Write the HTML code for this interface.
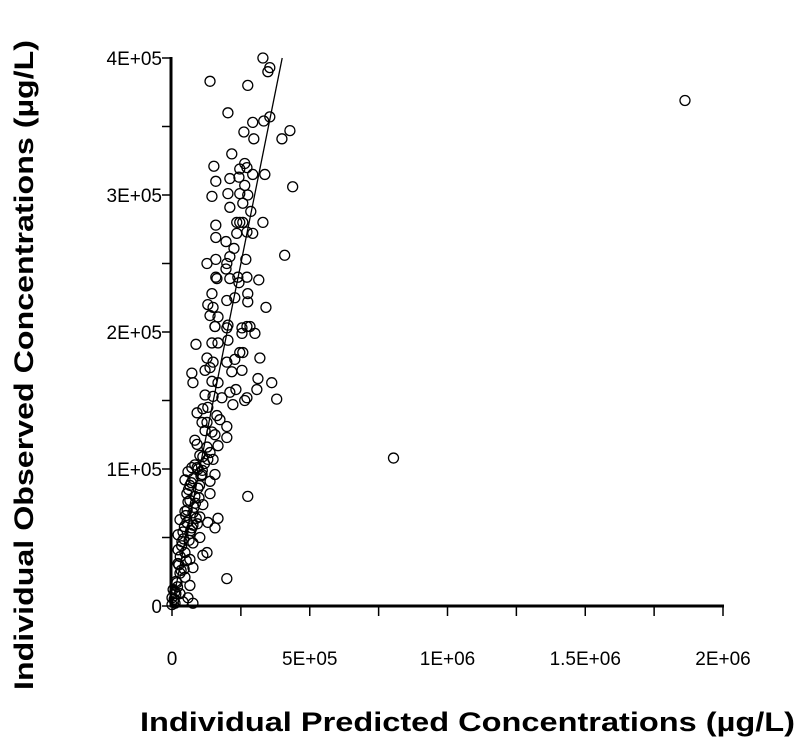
<!DOCTYPE html>
<html><head><meta charset="utf-8"><style>
html,body{margin:0;padding:0;background:#fff;}
svg{display:block;font-family:"Liberation Sans",sans-serif;}
</style></head><body>
<svg id="chart" width="800" height="744">
<g id="axes"></g>
<g id="pts"></g>
<text x="140" y="731" textLength="655" lengthAdjust="spacingAndGlyphs" font-size="27" font-weight="bold">Individual Predicted Concentrations (µg/L)</text>
<text transform="translate(33,690) rotate(-90)" textLength="650" lengthAdjust="spacingAndGlyphs" font-size="27" font-weight="bold">Individual Observed Concentrations (µg/L)</text>
</svg>
<script>
// values in thousands (µg/L / 1000)
const predX = [330,355,348,138,275,203,355,333,293,261,428,399,297,217,152,264,272,246,293,337,159,210,243,264,438,145,203,246,275,257,210,286,246,235,257,330,159,159,196,235,272,293,225,409,210,127,159,199,268,196,159,163,210,239,243,272,315,145,199,228,275,275,130,149,341,138,167,156,203,283,254,272,301,254,156,199,87,145,167,203,246,257,319,127,149,138,120,199,217,254,72,76,145,167,312,362,308,232,210,149,181,221,264,272,380,112,130,91,163,109,127,199,145,156,199,91,127,167,138,112,130,149,72,91,58,109,156,76,138,65,94,54,138,275,83,58,112,47,76,101,167,54,130,156,76,40,22,65,101,36,76,127,112,22,47,65,22,76,29,47,199,65,18,4,29,58,76,0,11,0,40,1862,804,47,83,101,65,29,120,83,174,120,228,60,70,80,95,105,50,45,35,30,25,15,10,55,88,98,110,118,68,42,33,20,8,14,62,72,85,100,52,44,92];
const obsY = [400,393,390,383,380,360,357,354,353,346,347,341,341,330,321,323,320,319,315,315,310,312,313,307,306,299,301,301,300,294,291,288,280,280,280,280,278,269,266,272,273,272,261,256,255,250,253,250,253,246,240,239,239,240,236,240,238,228,223,225,228,222,220,218,218,212,211,204,205,204,203,204,199,199,204,203,191,192,192,194,185,185,181,181,178,174,172,178,171,172,170,163,164,163,166,163,158,158,156,153,152,147,150,152,151,144,145,141,139,134,134,131,127,125,123,118,116,117,112,109,107,107,101,101,98,96,96,93,91,88,86,82,82,80,80,76,74,69,68,65,64,61,61,57,59,54,52,53,50,47,46,39,37,41,39,34,31,28,24,21,20,15,17,12,9,6,2,6,2,1,3,369,108,92,103,110,77,63,128,121,136,154,180,85,90,72,100,95,66,58,44,36,30,18,10,70,64,79,99,104,55,49,26,14,5,9,48,57,75,88,33,27,60];
const xTicks = [0,250,500,750,1000,1250,1500,1750,2000];
const xLabels = ["0","","5E+05","","1E+06","","1.5E+06","","2E+06"];
const yTicks = [0,50,100,150,200,250,300,350,400];
const yLabels = ["0","","1E+05","","2E+05","","3E+05","","4E+05"];
const identityLine = [0,400];

const NS="http://www.w3.org/2000/svg";
const X0=172,XS=0.2755,Y0=606,YS=1.37;
function sx(v){return X0+v*XS;}
function sy(v){return Y0-v*YS;}
function mk(tag,attrs,parent){const e=document.createElementNS(NS,tag);for(const k in attrs)e.setAttribute(k,attrs[k]);parent.appendChild(e);return e;}
const ax=document.getElementById('axes');
let l=mk('line',{x1:sx(0)-1.5,y1:Y0,x2:sx(2000)+1,y2:Y0,stroke:'#000','stroke-width':3},ax);


l=mk('line',{x1:X0-1,y1:sy(400)-1,x2:X0-1,y2:Y0+1.5,stroke:'#000','stroke-width':3},ax);


xTicks.forEach((t,i)=>{
  const tk=mk('line',{x1:sx(t),y1:Y0,x2:sx(t),y2:Y0+10,stroke:'#000','stroke-width':1.5},ax);
  
  
  if(xLabels[i]){const tx=mk('text',{x:sx(t),y:665,'text-anchor':'middle','font-size':19},ax);tx.textContent=xLabels[i];
  
  }
});
yTicks.forEach((t,i)=>{
  const tk=mk('line',{x1:X0-10,y1:sy(t),x2:X0,y2:sy(t),stroke:'#000','stroke-width':1.5},ax);
  
  
  if(yLabels[i]){const tx=mk('text',{x:162,y:sy(t)+7,'text-anchor':'end','font-size':19},ax);tx.textContent=yLabels[i];
  
  }
});
const il=mk('line',{x1:sx(identityLine[0]),y1:sy(identityLine[0]),x2:sx(identityLine[1]),y2:sy(identityLine[1]),stroke:'#000','stroke-width':1.3},ax);


const pg=document.getElementById('pts');
predX.forEach((v,i)=>{
  const c=mk('circle',{cx:sx(v),cy:sy(obsY[i]),r:5,fill:'none',stroke:'#000','stroke-width':1.3},pg);
  
  
});
</script>
</body></html>
